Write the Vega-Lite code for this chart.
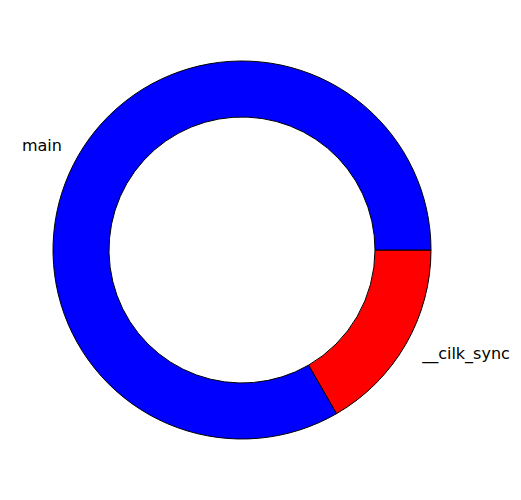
{
  "$schema": "https://vega.github.io/schema/vega-lite/v6.json",
  "width": 484,
  "height": 500,
  "padding": {"left": 0, "top": 0, "right": 37, "bottom": 0},
  "autosize": {"type": "none"},
  "background": "white",
  "view": {"stroke": null},
  "data": {"values": [
    {"label": "__cilk_sync", "value": 1, "order": 1},
    {"label": "main", "value": 5, "order": 2}
  ]},
  "encoding": {
    "theta": {"field": "value", "type": "quantitative", "stack": true, "scale": {"domain": [0, 6], "range": [1.5707963, 7.8539816]}},
    "order": {"field": "order", "type": "quantitative"}
  },
  "layer": [
    {
      "mark": {"type": "arc", "outerRadius": 189, "innerRadius": 133, "stroke": "black", "strokeWidth": 1},
      "encoding": {
        "color": {"field": "label", "type": "nominal", "scale": {"domain": ["main", "__cilk_sync"], "range": ["#0000ff", "#ff0000"]}, "legend": null}
      }
    },
    {
      "mark": {"type": "text", "radius": 208, "align": "right", "baseline": "middle", "font": "DejaVu Sans", "fontSize": 16, "color": "black"},
      "encoding": {
        "text": {"condition": {"test": "datum.label === 'main'", "field": "label"}, "value": ""}
      }
    },
    {
      "mark": {"type": "text", "radius": 208, "align": "left", "baseline": "middle", "font": "DejaVu Sans", "fontSize": 16, "color": "black"},
      "encoding": {
        "text": {"condition": {"test": "datum.label !== 'main'", "field": "label"}, "value": ""}
      }
    }
  ]
}
